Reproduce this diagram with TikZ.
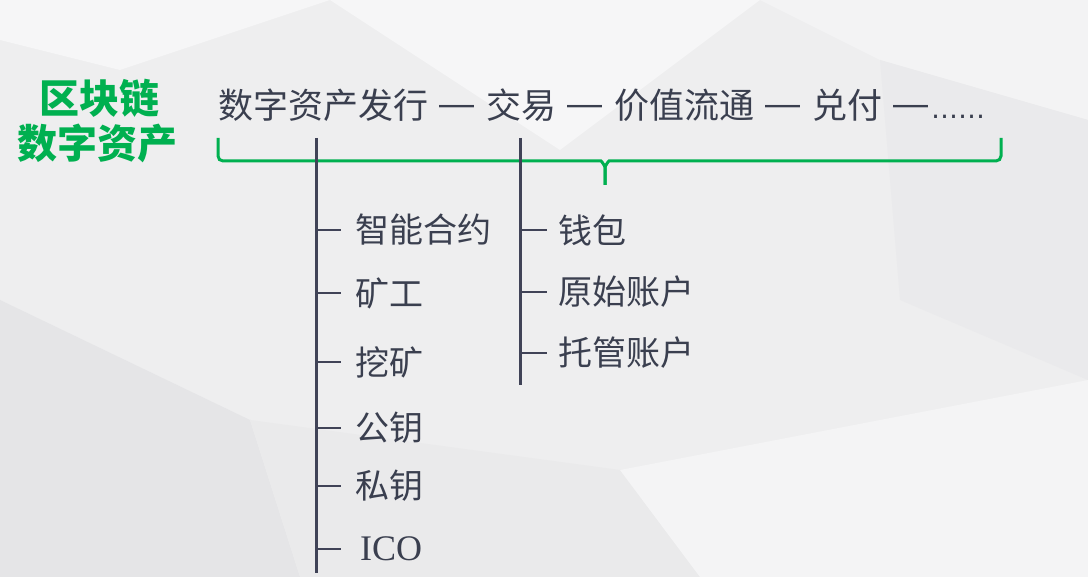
\documentclass[tikz,border=0pt]{standalone}
\usepackage{fontspec}
\newfontfamily\cjk{Noto Sans CJK SC}
\newfontfamily\latinfont{Liberation Sans}
\newfontfamily\dotsfont{DejaVu Sans}
\newfontfamily\serifwords{Liberation Serif}
\usetikzlibrary{positioning,calc}
\definecolor{ink}{HTML}{3A3F4F}
\definecolor{rulecol}{HTML}{404357}
\definecolor{titlegreen}{HTML}{00B050}
\definecolor{bgbase}{HTML}{EEEEEF}
\definecolor{bglight}{HTML}{F6F6F7}
\definecolor{bgdark}{HTML}{E5E5E7}
\newcommand{\flowdash}{\hspace{11pt}{\latinfont\raisebox{3pt}{—}}\hspace{12pt}}
\tikzset{
    title nodes/.style={
        font=\cjk\bfseries\fontsize{40}{44}\selectfont,
        text=titlegreen,
        inner sep=0pt,
    },
    flow/.style={
        font=\cjk\fontsize{35}{40}\selectfont,
        text=ink,
        inner sep=0pt,
        anchor=west,
    },
    item/.style={
        font=\cjk\fontsize{34}{38}\selectfont,
        text=ink,
        inner sep=0pt,
        anchor=west,
    },
    spine/.style={
        draw=rulecol,
        line width=3pt,
    },
    tick/.style={
        draw=rulecol,
        line width=2.5pt,
    },
    brace/.style={
        draw=titlegreen,
        line width=3pt,
        rounded corners=5pt,
    },
    facet/.style={
        fill=#1,
        draw=none,
    },
}

\begin{document}
\begin{tikzpicture}[x=1pt,y=-1pt]
        % background
        \fill[bgbase] (0,0) rectangle (1088,577);
        \fill[facet=bglight] (0,0) -- (330,0) -- (120,70) -- (0,40) -- cycle;
        \fill[facet=bglight] (330,0) -- (760,0) -- (560,150) -- cycle;
        \fill[facet=bglight!60!bgbase] (760,0) -- (1088,0) -- (1088,120) -- (880,60) -- cycle;
        \fill[facet=bgdark] (0,300) -- (250,420) -- (300,577) -- (0,577) -- cycle;
        \fill[facet=bgdark!50!bgbase] (300,577) -- (250,420) -- (620,470) -- (700,577) -- cycle;
        \fill[facet=bglight!70!bgbase] (700,577) -- (620,470) -- (1088,380) -- (1088,577) -- cycle;
        \fill[facet=bgdark!40!bgbase] (1088,120) -- (880,60) -- (900,300) -- (1088,380) -- cycle;
        \useasboundingbox (0,0) rectangle (1088,577);

        \node[title nodes](t1) at (99,98) {区块链};
        \node[title nodes](t2) at (97,143) {数字资产};

        \node[flow](flow) at (218,105) {数字资产发行\flowdash 交易\flowdash 价值流通\flowdash 兑付\hspace{11pt}{\latinfont\raisebox{3pt}{—}}\hspace{3pt}{\dotsfont\fontsize{27}{30}\selectfont ……}};

        % brace under the flow
        \coordinate (bl) at (218,138);
        \coordinate (br) at (1001,138);
        \coordinate (tip) at (605,185);
        \draw[brace] (bl) -- (218,161) -- (596,161) to[out=0,in=90] (605,172) -- (tip);
        \draw[brace] (tip) -- (605,172) to[out=90,in=180] (614,161) -- (1001,161) -- (br);

        % left branch
        \coordinate (spineL) at (316,138);
        \coordinate (spineLend) at (316,573);
        \draw[spine] (spineL) -- (spineLend);
        \node[item](k1) at (355,230) {智能合约};
        \node[item](k2) at (355,293) {矿工};
        \node[item](k3) at (355,362) {挖矿};
        \node[item](k4) at (355,428) {公钥};
        \node[item](k5) at (355,486) {私钥};
        \node[item,font=\serifwords\fontsize{36}{40}\selectfont](k6) at (360,549) {ICO};
        \draw[tick] (spineL |- k1.west) -- +(25,0);
        \draw[tick] (spineL |- k2.west) -- +(25,0);
        \draw[tick] (spineL |- k3.west) -- +(25,0);
        \draw[tick] (spineL |- k4.west) -- +(25,0);
        \draw[tick] (spineL |- k5.west) -- +(25,0);
        \draw[tick] (spineL |- k6.west) -- +(25,0);

        % right branch
        \coordinate (spineR) at (520,138);
        \coordinate (spineRend) at (520,385);
        \draw[spine] (spineR) -- (spineRend);
        \node[item](w1) at (558,230) {钱包};
        \node[item](w2) at (558,292) {原始账户};
        \node[item](w3) at (558,353) {托管账户};
        \draw[tick] (spineR |- w1.west) -- +(27,0);
        \draw[tick] (spineR |- w2.west) -- +(27,0);
        \draw[tick] (spineR |- w3.west) -- +(27,0);
    \end{tikzpicture}
\end{document}
